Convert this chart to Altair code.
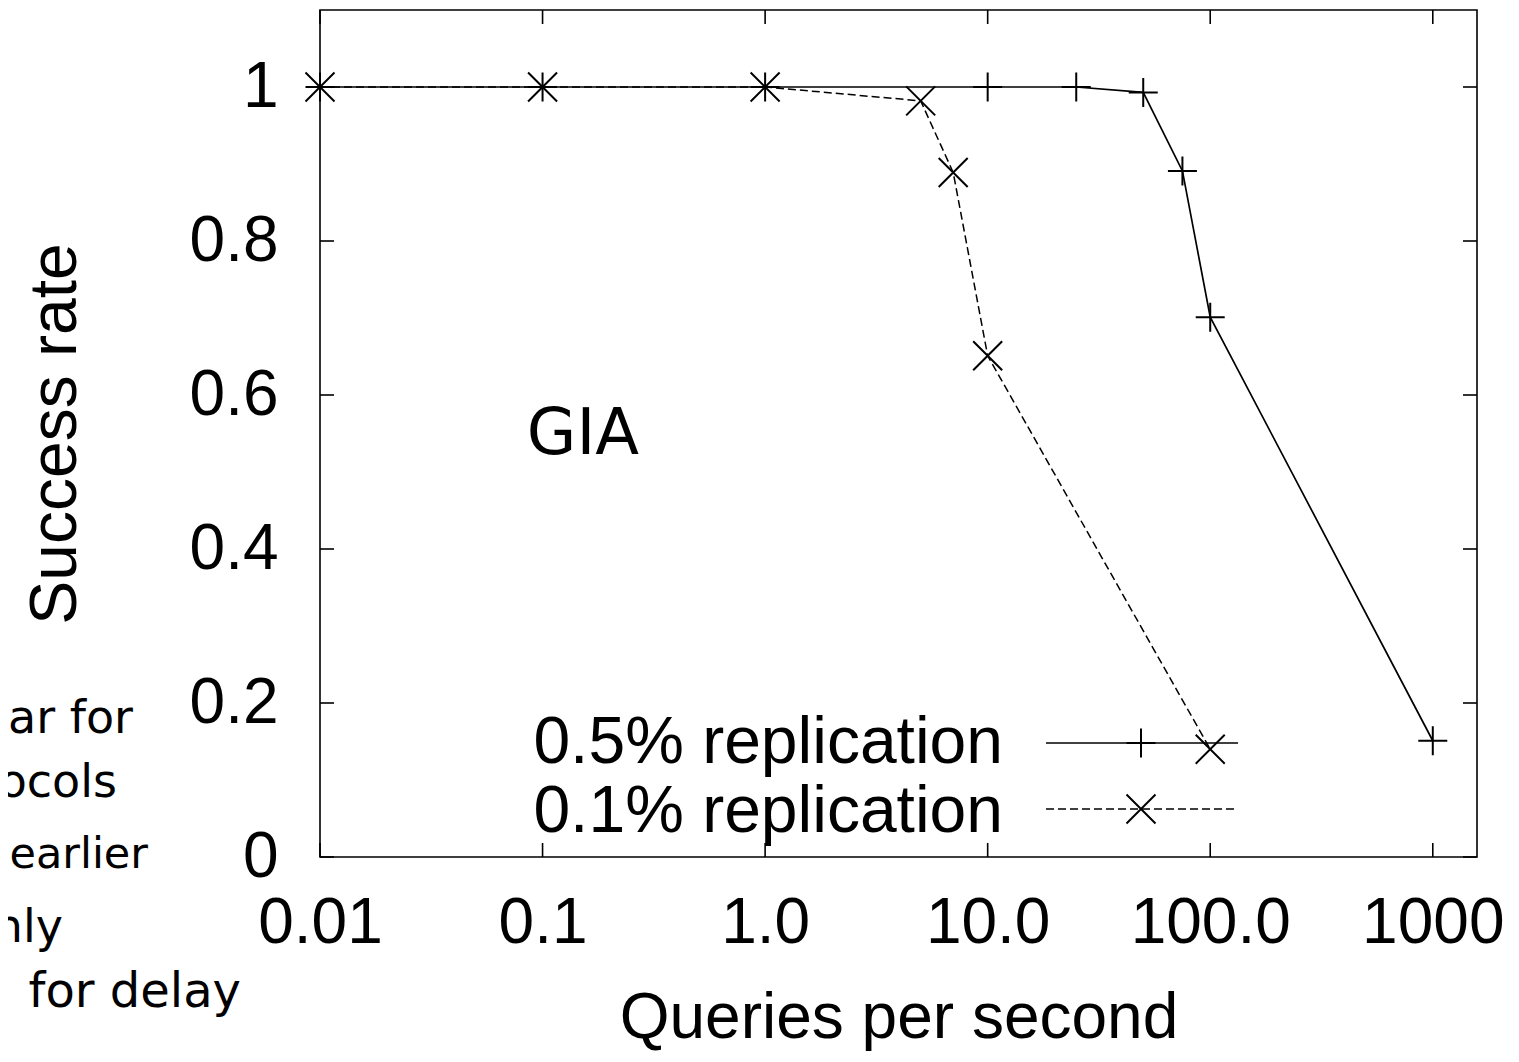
import altair as alt
import pandas as pd

# ---- data ----
qps_05 = [0.01, 0.1, 1, 10, 25, 50, 75, 100, 1000]
rate_05 = [1.0, 1.0, 1.0, 1.0, 1.0, 0.993, 0.891, 0.701, 0.151]
qps_01 = [0.01, 0.1, 1, 5, 7, 10, 100]
rate_01 = [1.0, 1.0, 1.0, 0.982, 0.889, 0.651, 0.140]
series_names = ["0.5% replication", "0.1% replication"]

x_tick_values = [0.01, 0.1, 1, 10, 100, 1000]
x_tick_labels = ["0.01", "0.1", "1.0", "10.0", "100.0", "1000"]
y_tick_values = [0, 0.2, 0.4, 0.6, 0.8, 1.0]

annotation_text = ["GIA"]
annotation_x = [0.085]
annotation_y = [0.523]

side_texts = ["ar for", "ocols", "earlier", "nly", "for delay"]

# ---- layout ----
W, H = 1157, 847
FONT = "Liberation Sans"
SIDE_FONT = "DejaVu Sans"
PLUS = "M-1,0L1,0M0,-1L0,1"
XMARK = "M-1,-1L1,1M-1,1L1,-1"
TICK = 14

df05 = pd.DataFrame({"x": qps_05, "y": rate_05})
df01 = pd.DataFrame({"x": qps_01, "y": rate_01})
dfxt = pd.DataFrame({"x": x_tick_values})
dfyt = pd.DataFrame({"y": y_tick_values})
dfann = pd.DataFrame({"x": annotation_x, "y": annotation_y, "t": annotation_text})

expr = "''"
for v, lab in reversed(list(zip(x_tick_values, x_tick_labels))):
    expr = f"abs(datum.value - {v}) < {v * 0.01} ? '{lab}' : ({expr})"

xscale = alt.Scale(type="log", domain=[0.01, 1580], nice=False)
yscale = alt.Scale(domain=[0, 1.1], nice=False)

X = alt.X(
    "x:Q",
    scale=xscale,
    axis=alt.Axis(
        values=x_tick_values,
        labelExpr=expr,
        labelFont=FONT,
        labelFontSize=64,
        labelColor="black",
        labelPadding=34,
        labelFlush=False,
        labelOverlap=False,
        labelBound=False,
        ticks=False,
        domain=False,
        grid=False,
        title="Queries per second",
        titleFont=FONT,
        titleFontSize=64,
        titleFontWeight="normal",
        titleColor="black",
        titlePadding=31,
    ),
)
Y = alt.Y(
    "y:Q",
    scale=yscale,
    axis=alt.Axis(
        values=y_tick_values,
        format="~g",
        labelFont=FONT,
        labelFontSize=64,
        labelColor="black",
        labelPadding=42,
        labelOverlap=False,
        labelBound=False,
        ticks=False,
        domain=False,
        grid=False,
        title="Success rate",
        titleFont=FONT,
        titleFontSize=66,
        titleFontWeight="normal",
        titleColor="black",
        titlePadding=100,
    ),
)

line05 = alt.Chart(df05).mark_line(color="black", strokeWidth=1.7).encode(x=X, y=Y)
line01 = alt.Chart(df01).mark_line(color="black", strokeWidth=1.5, strokeDash=[8, 4]).encode(x=X, y=Y)
pts05 = alt.Chart(df05).mark_point(shape=PLUS, size=841, filled=False, color="black",
                                   strokeWidth=2, opacity=1).encode(x=X, y=Y)
pts01 = alt.Chart(df01).mark_point(shape=XMARK, size=841, filled=False, color="black",
                                   strokeWidth=2, opacity=1).encode(x=X, y=Y)

tick_style = dict(color="black", strokeWidth=1.6)
tick_bottom = alt.Chart(dfxt).mark_rule(**tick_style).encode(x=X, y=alt.value(H), y2=alt.value(H - TICK))
tick_top = alt.Chart(dfxt).mark_rule(**tick_style).encode(x=X, y=alt.value(0), y2=alt.value(TICK))
tick_left = alt.Chart(dfyt).mark_rule(**tick_style).encode(y=Y, x=alt.value(0), x2=alt.value(TICK))
tick_right = alt.Chart(dfyt).mark_rule(**tick_style).encode(y=Y, x=alt.value(W), x2=alt.value(W - TICK))

gia = alt.Chart(dfann).mark_text(font=SIDE_FONT, fontSize=64, align="left", baseline="alphabetic",
                                 color="black").encode(x=X, y=Y, text="t:N")

# legend (inside plot, lower right)
leg_rows = [(733, 753, PLUS, None), (799, 822, XMARK, [8, 4])]
legend_layers = []
for name, (ly, tb, shp, dash) in zip(series_names, leg_rows):
    dfl = pd.DataFrame({"t": [name]})
    legend_layers.append(
        alt.Chart(dfl).mark_text(font=FONT, fontSize=66, align="right", baseline="alphabetic",
                                 color="black").encode(text="t:N", x=alt.value(683), y=alt.value(tb))
    )
    rule_kw = dict(color="black", strokeWidth=1.6)
    if dash:
        rule_kw["strokeDash"] = dash
    legend_layers.append(
        alt.Chart(dfl).mark_rule(**rule_kw).encode(x=alt.value(726), x2=alt.value(918), y=alt.value(ly))
    )
    legend_layers.append(
        alt.Chart(dfl).mark_point(shape=shp, size=841, filled=False, color="black", strokeWidth=2,
                                  opacity=1).encode(x=alt.value(821), y=alt.value(ly))
    )

# slide text on the far left (cut off at the picture edge in the reference)
side_pos = [(-187, 723, 46), (-203, 787, 46), (-172, 858, 43), (-257, 932, 46), (-79, 997, 48)]
side_layers = []
for txt, (sx, sy, fs) in zip(side_texts, side_pos):
    side_layers.append(
        alt.Chart(pd.DataFrame({"t": [txt]})).mark_text(font=SIDE_FONT, fontSize=fs, align="right",
                                                        baseline="alphabetic", color="black")
        .encode(text="t:N", x=alt.value(sx), y=alt.value(sy))
    )

chart = alt.layer(
    line01, line05, pts01, pts05,
    tick_bottom, tick_top, tick_left, tick_right,
    gia, *legend_layers, *side_layers,
).properties(
    width=W,
    height=H,
    background="white",
    autosize=alt.AutoSizeParams(type="none"),
    padding={"left": 312, "top": 2, "right": 30, "bottom": 196},
).configure_view(
    stroke="black", strokeWidth=1.6
)

chart.save("out.html", embed_options={"renderer": "svg", "actions": False})
